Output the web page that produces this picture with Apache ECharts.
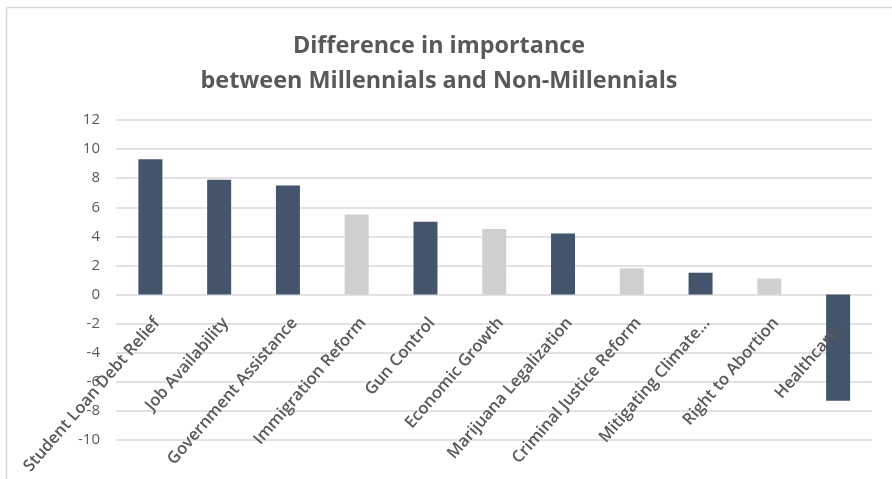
<!DOCTYPE html>
<html>
<head>
<meta charset="utf-8">
<script src="https://cdn.jsdelivr.net/npm/echarts@6/dist/echarts.min.js"></script>
<style>
html,body{margin:0;padding:0;background:#fff;}
#chart{width:892px;height:479px;}
</style>
</head>
<body>
<div id="chart"></div>
<script>
const categories = ['Student Loan Debt Relief','Job Availability','Government Assistance','Immigration Reform','Gun Control','Economic Growth','Marijuana Legalization','Criminal Justice Reform','Mitigating Climate...','Right to Abortion','Healthcare...'];
const differences = [9.3, 7.9, 7.5, 5.5, 5.0, 4.5, 4.2, 1.8, 1.5, 1.1, -7.3];
const highlighted = [true, true, true, false, true, false, true, false, true, false, true];
const yTicks = [-10, 12, 2];

const DARK = '#44546A', LIGHT = '#D0CECE', TEXT = '#595959', GRID = '#D9D9D9';
const chart = echarts.init(document.getElementById('chart'), null, {renderer:'canvas'});
chart.setOption({
  animation:false,
  backgroundColor:'#fff',
  title:{
    text:'Difference in importance\nbetween Millennials and Non-Millennials',
    left:434, top:24, textAlign:'center',
    textStyle:{fontFamily:'Open Sans', fontWeight:'bold', fontSize:23.4, color:TEXT, lineHeight:35}
  },
  graphic:[{type:'rect', left:4, top:5, shape:{width:1000,height:1000}, style:{fill:'none', stroke:GRID, lineWidth:1.5}, silent:true}],
  grid:{left:116, right:19.5, top:120, bottom:39, containLabel:false, outerBoundsMode:'none'},
  xAxis:{
    type:'category', data:categories, zlevel:1, z:10, position:'bottom',
    axisLine:{show:false}, axisTick:{show:false},
    axisLabel:{interval:0, rotate:49, margin:8, align:'right', verticalAlign:'top', color:TEXT, fontFamily:'Open Sans', fontWeight:600, fontSize:16.5}
  },
  yAxis:{
    type:'value', min:yTicks[0], max:yTicks[1], interval:yTicks[2],
    axisLine:{show:false}, axisTick:{show:false},
    axisLabel:{color:TEXT, fontFamily:'Open Sans', fontSize:15, margin:16},
    splitLine:{lineStyle:{color:GRID, width:1.5}}
  },
  series:[{
    type:'bar', barWidth:24,
    data:differences.map((v,i)=>({value:v, itemStyle:{color: highlighted[i]?DARK:LIGHT}}))
  }]
});
// the original's category axis crosses at 0, so labels sit just below the zero line
const yZero = chart.convertToPixel({yAxisIndex:0}, 0);
const yMin = chart.convertToPixel({yAxisIndex:0}, yTicks[0]);
chart.setOption({xAxis:{axisLabel:{margin: 20 - (yMin - yZero)}}});
</script>
</body>
</html>
